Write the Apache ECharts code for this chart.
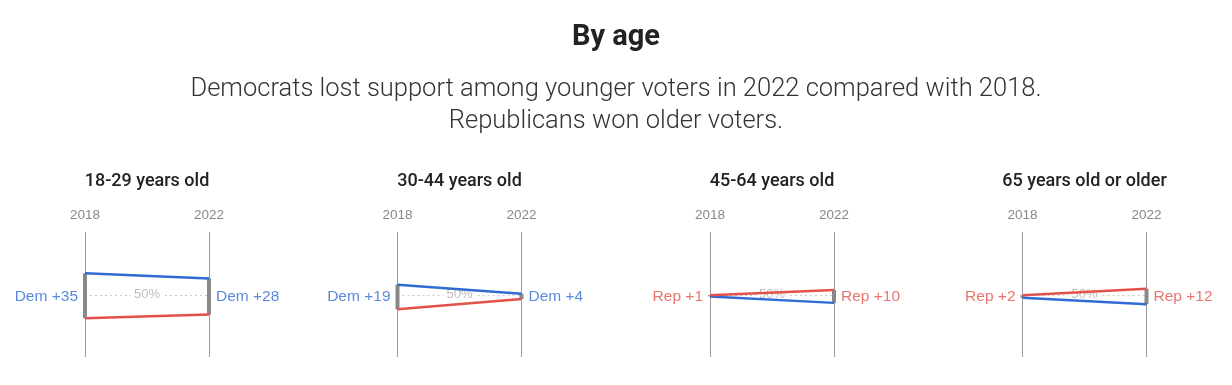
<!DOCTYPE html>
<html>
<head>
<meta charset="utf-8">
<script src="https://cdn.jsdelivr.net/npm/echarts@6/dist/echarts.min.js"></script>
<style>
html,body{margin:0;padding:0;background:#fff;}
#c{width:1232px;height:385px;}
</style>
</head>
<body>
<div id="c"></div>
<script>
const years = ['2018', '2022'];
const groups = ['18-29 years old', '30-44 years old', '45-64 years old', '65 years old or older'];
const dem2018 = [67, 58, 49, 48];
const rep2018 = [32, 39, 50, 50];
const dem2022 = [63, 51, 44, 43];
const rep2022 = [35, 47, 54, 55];
const mainTitle = 'By age';
const subTitle = 'Democrats lost support among younger voters in 2022 compared with 2018.\nRepublicans won older voters.';

const BLUE = '#2f6bd3';
const RED = '#e2514b';
const chart = echarts.init(document.getElementById('c'));

function marginLabel(d, r) {
  const m = d - r;
  return m >= 0 ? { text: 'Dem +' + m, color: BLUE } : { text: 'Rep +' + (-m), color: RED };
}

const grids = [], xAxes = [], yAxes = [], series = [];
const titles = [
  { text: mainTitle, left: 616, top: 23, padding: 0, textAlign: 'center', textStyle: { fontFamily: 'Roboto', fontWeight: 'bold', fontSize: 29, color: '#222' } },
  { text: subTitle, left: 616, top: 74, padding: 0, textAlign: 'center', textStyle: { fontFamily: 'Roboto', fontWeight: 300, fontSize: 25.5, lineHeight: 32, color: '#333' } }
];

groups.forEach((g, i) => {
  const left = 85 + 312.5 * i;
  grids.push({ left: left, width: 124, top: 232, height: 125 });
  titles.push({ text: g, left: left + 62, top: 172, padding: 0, textAlign: 'center',
    textStyle: { fontFamily: 'Roboto', fontWeight: 500, fontSize: 18, color: '#222' } });
  xAxes.push({ gridIndex: i, type: 'category', data: years, boundaryGap: false, position: 'top',
    axisLine: { show: false }, axisTick: { show: false },
    axisLabel: { color: '#888', fontSize: 13.5, margin: 10, fontFamily: 'Liberation Sans' },
    splitLine: { show: true, lineStyle: { color: '#9a9a9a', width: 1 } } });
  yAxes.push({ gridIndex: i, type: 'value', min: 2, max: 99, show: false, splitLine: { show: false } });

  const l18 = marginLabel(dem2018[i], rep2018[i]);
  const l22 = marginLabel(dem2022[i], rep2022[i]);

  series.push({ type: 'line', xAxisIndex: i, yAxisIndex: i, data: [], z: 1, silent: true,
    markLine: { silent: true, symbol: 'none', animation: false, z: 1,
      data: [{ yAxis: 50 }],
      lineStyle: { type: [2, 3], color: '#c8c8c8', width: 1 },
      label: { position: 'middle', formatter: '50%', color: '#bdbdbd', fontSize: 13, fontFamily: 'Liberation Sans',
        backgroundColor: '#fff', padding: [0, 3], distance: -6 } } });
  series.push({ type: 'line', xAxisIndex: i, yAxisIndex: i, z: 2, symbol: 'none', animation: false,
    data: [[years[0], dem2018[i]], [years[0], rep2018[i]]], lineStyle: { color: '#888', width: 4 } });
  series.push({ type: 'line', xAxisIndex: i, yAxisIndex: i, z: 2, symbol: 'none', animation: false,
    data: [[years[1], dem2022[i]], [years[1], rep2022[i]]], lineStyle: { color: '#888', width: 4 } });
  series.push({ type: 'line', xAxisIndex: i, yAxisIndex: i, z: 3, symbol: 'none', animation: false,
    data: [dem2018[i], dem2022[i]], lineStyle: { color: BLUE, width: 2.5 } });
  series.push({ type: 'line', xAxisIndex: i, yAxisIndex: i, z: 3, symbol: 'none', animation: false,
    data: [rep2018[i], rep2022[i]], lineStyle: { color: RED, width: 2.5 } });
  series.push({ type: 'scatter', xAxisIndex: i, yAxisIndex: i, z: 4, symbolSize: 0, animation: false,
    data: [
      { value: [years[0], 50], label: { show: true, position: 'left', distance: 7, formatter: l18.text, color: l18.color } },
      { value: [years[1], 50], label: { show: true, position: 'right', distance: 7, formatter: l22.text, color: l22.color } }
    ],
    label: { fontSize: 15.5, fontFamily: 'Liberation Sans', offset: [0, 2] } });
});

chart.setOption({
  animation: false,
  backgroundColor: '#fff',
  title: titles,
  grid: grids,
  xAxis: xAxes,
  yAxis: yAxes,
  series: series
});
</script>
</body>
</html>
